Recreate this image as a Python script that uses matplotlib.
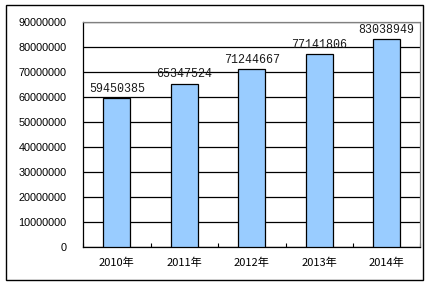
import matplotlib
matplotlib.use("Agg")
import matplotlib.pyplot as plt
from matplotlib.patches import Rectangle

plt.rcParams['font.family'] = ['Noto Sans CJK SC', 'DejaVu Sans']

years = ["2010年", "2011年", "2012年", "2013年", "2014年"]
values = [59450385, 65347524, 71244667, 77141806, 83038949]
yticks = [0, 10000000, 20000000, 30000000, 40000000, 50000000,
          60000000, 70000000, 80000000, 90000000]

W, H = 433, 284
fig = plt.figure(figsize=(W / 100, H / 100), dpi=100)
fig.patch.set_facecolor("white")

# outer border
fig.add_artist(Rectangle((6 / W, 1 - 279.5 / H), (422.5 - 6) / W, (279.5 - 4.5) / H,
                         transform=fig.transFigure, fill=False, edgecolor="black", linewidth=1.0))

left, right, top, bottom = 83, 420.5, 22, 247
ax = fig.add_axes([left / W, 1 - bottom / H, (right - left) / W, (bottom - top) / H])

x = list(range(len(years)))
ax.bar(x, values, width=0.4, color="#99CCFF", edgecolor="black", linewidth=0.9, zorder=3)
for xi, v in zip(x, values):
    ax.text(xi, v + 1300000, str(v), ha="center", va="bottom", fontsize=8.4,
            family="Liberation Mono", color="#1a1a1a", zorder=4)

ax.set_xlim(-0.5, len(years) - 0.5)
ax.set_ylim(0, 90000000)
ax.set_yticks(yticks)
ax.set_yticklabels([str(t) for t in yticks], fontsize=7.8, family="Liberation Sans")
ax.yaxis.grid(True, color="black", linewidth=0.9, zorder=0)
ax.tick_params(axis="y", length=0, pad=12)

ax.set_xticks(x)
ax.set_xticklabels(years, fontsize=8)
ax.tick_params(axis="x", length=0, pad=8)
ax.set_xticks([i + 0.5 for i in range(-1, len(years))], minor=True)
ax.tick_params(axis="x", which="minor", length=3, direction="in", width=0.8)

for s in ["top", "right"]:
    ax.spines[s].set_color("#808080")
    ax.spines[s].set_linewidth(0.9)
for s in ["left", "bottom"]:
    ax.spines[s].set_color("black")
    ax.spines[s].set_linewidth(0.9)

fig.savefig("out.png", dpi=100)
